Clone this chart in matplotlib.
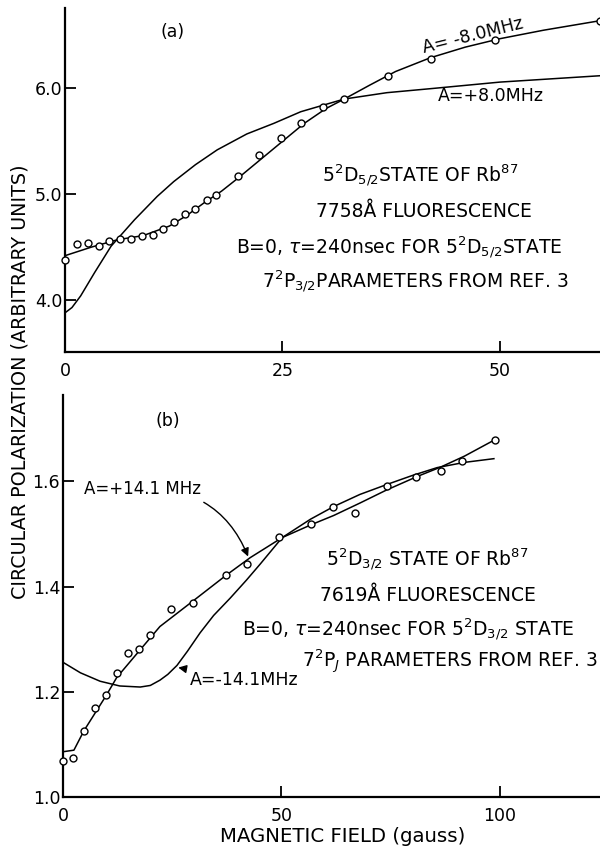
import matplotlib
matplotlib.use("Agg")
import matplotlib.pyplot as plt

plt.rcParams['font.family'] = ['DejaVu Sans']
plt.rcParams['mathtext.fontset'] = 'dejavusans'

# ---------------- Panel (a) data ----------------
a_pts_x = [0, 1.4, 2.6, 3.9, 5.1, 6.3, 7.6, 8.8, 10.1, 11.3, 12.5, 13.8, 15.0, 16.3,
           17.4, 19.9, 22.3, 24.8, 27.1, 29.7, 32.1, 37.1, 42.1, 49.4, 61.5]
a_pts_y = [4.38, 4.53, 4.54, 4.51, 4.56, 4.58, 4.58, 4.61, 4.62, 4.67, 4.74, 4.81, 4.86, 4.95,
           4.99, 5.17, 5.37, 5.53, 5.67, 5.82, 5.90, 6.12, 6.28, 6.46, 6.64]

a_neg_x = [0, 3, 6, 9, 12, 14, 16, 18, 20, 22.5, 25, 27.5, 30, 32.1, 35, 38, 42, 46, 50, 55, 61.5]
a_neg_y = [4.42, 4.50, 4.57, 4.61, 4.70, 4.80, 4.92, 5.03, 5.16, 5.33, 5.50, 5.67, 5.81, 5.90,
           6.03, 6.16, 6.29, 6.39, 6.47, 6.55, 6.64]

a_pos_x = [0, 0.8, 1.8, 3.4, 5.3, 8.0, 10.6, 12.5, 15, 17.5, 20.9, 24, 27.1, 32.1, 37, 42.3, 50, 61.5]
a_pos_y = [3.88, 3.93, 4.04, 4.26, 4.51, 4.76, 4.98, 5.12, 5.28, 5.42, 5.57, 5.67, 5.78, 5.90,
           5.96, 6.00, 6.06, 6.12]

a_xticks = [0, 25, 50]
a_yticks = [4.0, 5.0, 6.0]

# ---------------- Panel (b) data ----------------
b_pts_x = [0, 2.2, 4.8, 7.3, 9.9, 12.3, 14.9, 17.4, 20.0, 24.8, 29.7, 37.3, 42.1, 49.5,
           56.9, 61.8, 66.8, 74.1, 80.9, 86.5, 91.3, 98.9]
b_pts_y = [1.069, 1.075, 1.126, 1.170, 1.193, 1.236, 1.274, 1.282, 1.307, 1.358, 1.369,
           1.421, 1.442, 1.495, 1.518, 1.551, 1.540, 1.592, 1.609, 1.620, 1.639, 1.679]

b_pos_x = [0, 2.5, 4.8, 9.9, 12.3, 17.7, 22.2, 29.7, 37.3, 42.9, 50.2, 57, 62, 68.1, 74,
           81.1, 86.5, 92, 98.7]
b_pos_y = [1.086, 1.089, 1.126, 1.193, 1.227, 1.280, 1.324, 1.372, 1.421, 1.455, 1.493,
           1.518, 1.535, 1.559, 1.583, 1.609, 1.627, 1.648, 1.678]

b_neg_x = [0, 4, 8.5, 13, 17.7, 20, 22.2, 24, 26.1, 28.5, 31.4, 34.5, 38.3, 42, 45.2, 50.2,
           56.7, 62, 68, 74.2, 80, 85.7, 92, 98.7]
b_neg_y = [1.256, 1.236, 1.220, 1.211, 1.209, 1.212, 1.222, 1.233, 1.250, 1.277, 1.312, 1.345,
           1.378, 1.412, 1.443, 1.493, 1.528, 1.552, 1.575, 1.594, 1.611, 1.626, 1.636, 1.643]

b_xticks = [0, 50, 100]
b_yticks = [1.0, 1.2, 1.4, 1.6]

FS = 12.5      # tick labels, panel tags
FS_BLOCK = 13.5
FS_LAB = 13.8

fig = plt.figure(figsize=(6, 8.5), dpi=100)
fig.patch.set_facecolor('white')

ax1 = fig.add_axes([65/600, 1-352/850, 1-65/600, (352-8)/850])
ax2 = fig.add_axes([63/600, 1-797/850, 1-63/600, (797-395)/850])

def style(ax, xt, yt, fmt):
    for s in ['top', 'right']:
        ax.spines[s].set_visible(False)
    for s in ['left', 'bottom']:
        ax.spines[s].set_linewidth(1.6)
    ax.set_xticks(xt)
    ax.set_yticks(yt)
    ax.set_yticklabels([fmt.format(v) for v in yt])
    ax.set_xticklabels([str(v) for v in xt])
    ax.tick_params(direction='in', length=8, width=1.3, labelsize=FS)
    ax.tick_params(axis='x', pad=7)
    ax.tick_params(axis='y', pad=2)

style(ax1, a_xticks, a_yticks, "{:.1f}")
style(ax2, b_xticks, b_yticks, "{:.1f}")

ax1.set_xlim(0, 61.5)
ax1.set_ylim(3.51, 6.76)
ax2.set_xlim(0, 123)
ax2.set_ylim(1.0, 1.764)

lw = 1.1
ax1.plot(a_neg_x, a_neg_y, color='black', lw=lw)
ax1.plot(a_pos_x, a_pos_y, color='black', lw=lw)
ax1.plot(a_pts_x, a_pts_y, 'o', mfc='white', mec='black', ms=5, mew=1.0, clip_on=False, zorder=5)

ax2.plot(b_pos_x, b_pos_y, color='black', lw=lw)
ax2.plot(b_neg_x, b_neg_y, color='black', lw=lw)
ax2.plot(b_pts_x, b_pts_y, 'o', mfc='white', mec='black', ms=5, mew=1.0, clip_on=False, zorder=5)

# Panel (a) text
ax1.text(12.4, 6.53, "(a)", fontsize=FS, ha='center', va='center')
ax1.text(46.9, 6.50, "A= -8.0MHz", fontsize=FS, ha='center', va='center', rotation=14)
ax1.text(48.9, 5.93, "A=+8.0MHz", fontsize=FS, ha='center', va='center')
ax1.text(40.8, 5.17, r"5$^2$D$_{5/2}$STATE OF Rb$^{87}$", fontsize=FS_BLOCK, ha='center', va='center')
ax1.text(41.3, 4.84, "7758Å FLUORESCENCE", fontsize=FS_BLOCK, ha='center', va='center')
ax1.text(38.4, 4.49, r"B=0, $\tau$=240nsec FOR 5$^2$D$_{5/2}$STATE", fontsize=FS_BLOCK, ha='center', va='center')
ax1.text(40.3, 4.17, r"7$^2$P$_{3/2}$PARAMETERS FROM REF. 3", fontsize=FS_BLOCK, ha='center', va='center')

# Panel (b) text
ax2.text(23.9, 1.714, "(b)", fontsize=FS, ha='center', va='center')
ax2.annotate("A=+14.1 MHz", xy=(42.4, 1.457), xytext=(18.3, 1.585), fontsize=12,
             ha='center', va='center',
             arrowprops=dict(arrowstyle='-|>', color='black', lw=1.0,
                             connectionstyle='arc3,rad=-0.35', shrinkA=2, shrinkB=0,
                             mutation_scale=12))
ax2.annotate("A=-14.1MHz", xy=(26.4, 1.246), xytext=(41.5, 1.223), fontsize=12.5,
             ha='center', va='center',
             arrowprops=dict(arrowstyle='-|>', color='black', lw=1.0, shrinkA=2, shrinkB=0,
                             mutation_scale=12))
ax2.text(83.5, 1.451, r"5$^2$D$_{3/2}$ STATE OF Rb$^{87}$", fontsize=FS_BLOCK, ha='center', va='center')
ax2.text(83.5, 1.383, "7619Å FLUORESCENCE", fontsize=FS_BLOCK, ha='center', va='center')
ax2.text(79.1, 1.318, r"B=0, $\tau$=240nsec FOR 5$^2$D$_{3/2}$ STATE", fontsize=FS_BLOCK, ha='center', va='center')
ax2.text(88.7, 1.257, r"7$^2$P$_J$ PARAMETERS FROM REF. 3", fontsize=FS_BLOCK, ha='center', va='center')

fig.text(20/600, 1-382/850, "CIRCULAR POLARIZATION (ARBITRARY UNITS)", rotation=90,
         fontsize=FS_LAB, ha='center', va='center')
fig.text(343/600, 1-836/850, "MAGNETIC FIELD (gauss)", fontsize=14.2, ha='center', va='center')

fig.savefig("out.png", dpi=100, facecolor='white')
